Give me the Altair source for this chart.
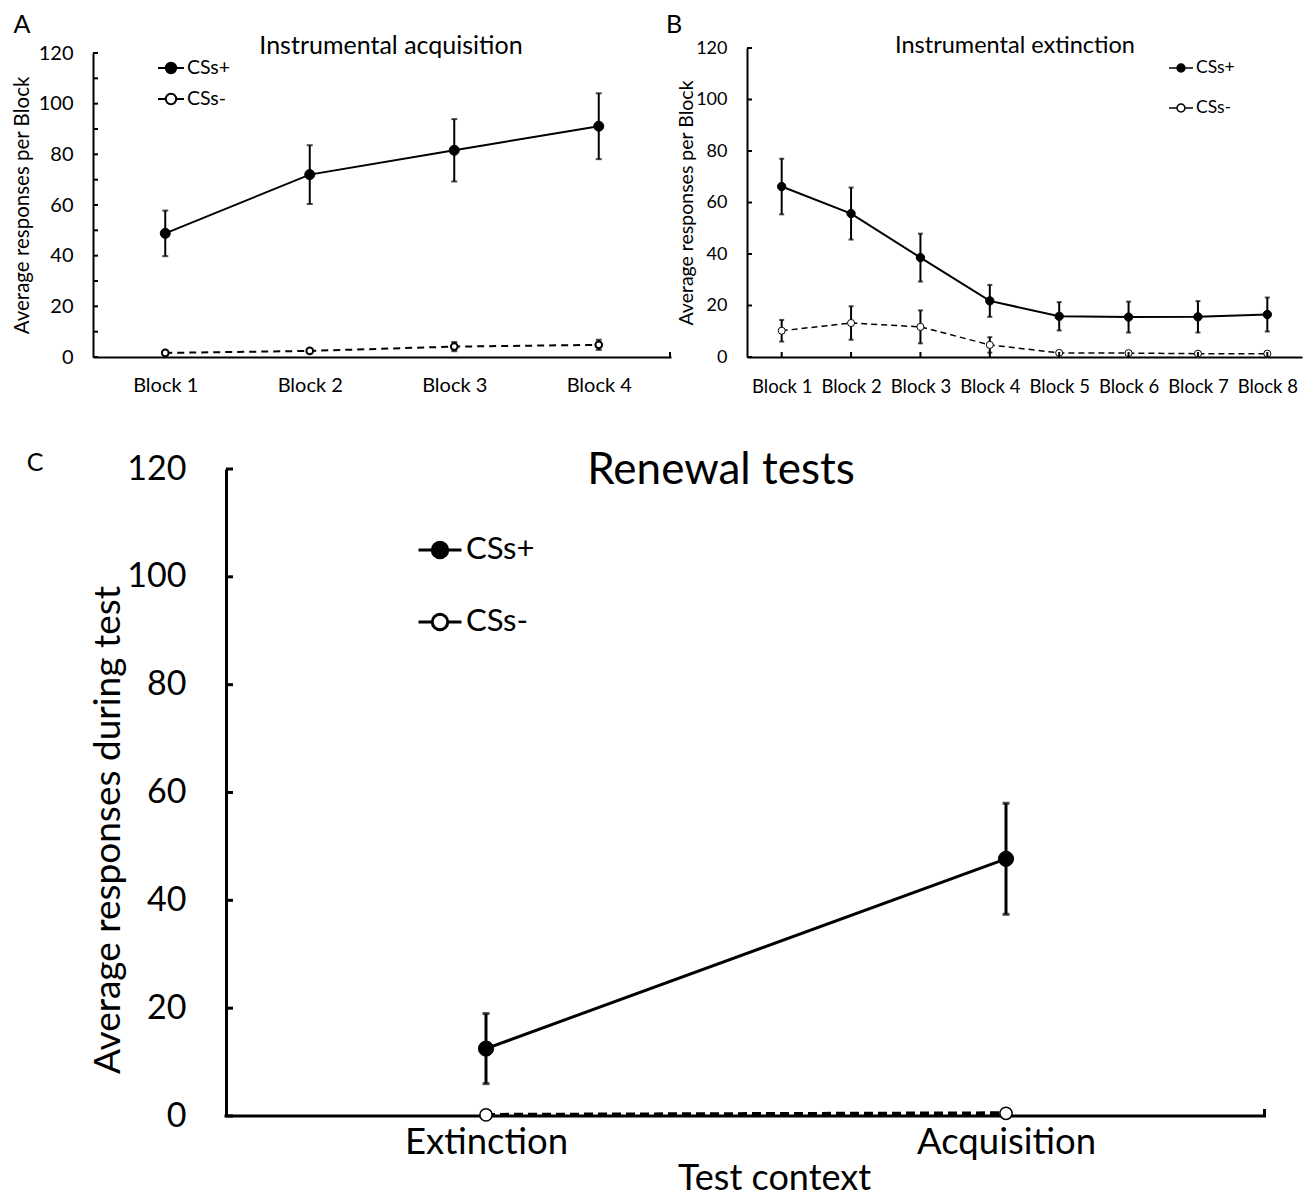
import altair as alt
import pandas as pd

FONT = "Lato"

# ---------------- data ----------------
a_blocks = ["Block 1", "Block 2", "Block 3", "Block 4"]
a_plus = [48.8, 72.0, 81.6, 91.1]
a_plus_err = [9.0, 11.6, 12.3, 13.0]
a_minus = [1.6, 2.4, 4.1, 4.8]
a_minus_err = [0.6, 0.8, 1.8, 2.0]

b_blocks = ["Block 1", "Block 2", "Block 3", "Block 4",
            "Block 5", "Block 6", "Block 7", "Block 8"]
b_plus = [66.2, 55.7, 38.6, 21.8, 15.8, 15.5, 15.6, 16.5]
b_plus_err = [10.8, 10.1, 9.3, 6.2, 5.5, 6.0, 6.1, 6.6]
b_minus = [10.2, 13.2, 11.7, 4.7, 1.6, 1.5, 1.3, 1.3]
b_minus_err = [4.2, 6.5, 6.4, 3.0, 0.3, 0.3, 0.3, 0.3]

c_context = ["Extinction", "Acquisition"]
c_plus = [12.5, 47.7]
c_plus_err = [6.5, 10.3]
c_minus = [0.2, 0.5]
c_minus_err = [0.0, 0.0]

series = ["CSs+", "CSs-"]
y_label_values = [0, 20, 40, 60, 80, 100, 120]


def make_df(cats, plus, plus_err, minus, minus_err):
    rows = []
    for c, v, e in zip(cats, plus, plus_err):
        rows.append({"cat": c, "series": "CSs+", "value": v, "lo": v - e, "hi": v + e})
    for c, v, e in zip(cats, minus, minus_err):
        rows.append({"cat": c, "series": "CSs-", "value": v, "lo": v - e, "hi": v + e})
    return pd.DataFrame(rows)


def panel(cats, plus, plus_err, minus, minus_err, s):
    w, h = s["w"], s["h"]
    x0 = s.get("x0", 0)          # where the y axis sits inside the plot rectangle
    ytop = s.get("ytop", 0)      # where the value 120 sits inside the plot rectangle
    df = make_df(cats, plus, plus_err, minus, minus_err)
    if "xrange" in s:
        xs = alt.Scale(type="point", padding=0, domain=cats, range=s["xrange"])
    else:
        xs = alt.Scale(type="point", padding=0.5, domain=cats)
    ys = alt.Scale(domain=[0, 120], nice=False, zero=True, range=[h, ytop])
    xaxis = alt.Axis(labelAngle=0, ticks=False, grid=False, domain=not s.get("owndomain", False),
                     domainColor="black", domainWidth=s["axw"], labelFont=FONT,
                     labelFontSize=s["xlab"], labelColor="black", labelPadding=s["xpad"],
                     labelBaseline="middle", title=s.get("xtitle", ""), titleFont=FONT,
                     titleFontSize=s.get("xtfs", 12), titleFontWeight="normal",
                     titleColor="black", titleX=s.get("xtx", 0), titleY=s.get("xty", 0),
                     titleAlign="center", titleBaseline="middle", labelFlush=False)
    yaxis = alt.Axis(values=y_label_values, ticks=False, grid=False, offset=-x0,
                     domainColor="black", domainWidth=s["axw"], labelFont=FONT,
                     labelFontSize=s["ylab"], labelColor="black", labelPadding=s["ypad"],
                     title=s["ytitle"], titleFont=FONT, titleFontSize=s["ytfs"],
                     titleFontWeight="normal", titleColor="black", titleAngle=-90,
                     titleX=s["ytx"], titleY=(h + ytop) / 2 + s.get("yty", 0),
                     titleAlign="center", titleBaseline="middle")
    X = alt.X("cat:N", scale=xs, axis=xaxis, sort=cats)
    Y = alt.Y("value:Q", scale=ys, axis=yaxis)

    one = pd.DataFrame({"k": [0]})
    layers = []
    if "bx1" in s:
        layers.append(alt.Chart(one).mark_rule(strokeOpacity=0, opacity=0).encode(
            x=alt.value(s["bx1"]), x2=alt.value(w + s["bx2"]),
            y=alt.value(s["by1"]), y2=alt.value(h + s["by2"])))
    if s.get("owndomain"):
        layers.append(alt.Chart(one).mark_rule(color="black", strokeWidth=s["axw"]).encode(
            x=alt.value(x0 - s["axw"] / 2), x2=alt.value(w), y=alt.value(h)))

    base = alt.Chart(df)
    err = base.mark_rule(color="black", strokeWidth=s["ew"]).encode(
        x=X, y=alt.Y("lo:Q", scale=ys, axis=yaxis), y2="hi:Q")
    cap_hi = base.mark_tick(color="black", thickness=s["ew"], size=s["cap"]).encode(
        x=X, y=alt.Y("hi:Q", scale=ys, axis=yaxis))
    cap_lo = base.mark_tick(color="black", thickness=s["ew"], size=s["cap"]).encode(
        x=X, y=alt.Y("lo:Q", scale=ys, axis=yaxis))
    line_plus = base.transform_filter(alt.datum.series == "CSs+").mark_line(
        color="black", strokeWidth=s["lw"]).encode(x=X, y=Y)
    line_minus = base.transform_filter(alt.datum.series == "CSs-").mark_line(
        color="black", strokeWidth=s["dlw"], strokeDash=s["dash"]).encode(x=X, y=Y)

    legend = alt.Legend(orient="none", legendX=s["lx"], legendY=s["ly"], title=None,
                        symbolType=s["sym"], symbolSize=s["ssz"], symbolStrokeColor="black",
                        symbolStrokeWidth=s["slw"], labelFont=FONT,
                        labelFontSize=s["lfs"], labelColor="black", rowPadding=s["rp"],
                        labelOffset=s["lo"], padding=0, symbolOpacity=1)
    fill = alt.Fill("series:N", scale=alt.Scale(domain=series, range=["black", "white"]),
                    legend=legend)
    pts_plus = base.transform_filter(alt.datum.series == "CSs+").mark_point(
        shape="circle", filled=True, stroke="black", opacity=1, size=s["ps"],
        strokeWidth=1).encode(x=X, y=Y, fill=fill)
    pts_minus = base.transform_filter(alt.datum.series == "CSs-").mark_point(
        shape="circle", filled=True, stroke="black", opacity=1, size=s["ms"],
        strokeWidth=s["msw"]).encode(x=X, y=Y, fill=fill)

    tdf = pd.DataFrame({"t": s["yt"]})
    yticks = alt.Chart(tdf).mark_rule(color="black", strokeWidth=s["axw"]).encode(
        y=alt.Y("t:Q", scale=ys, axis=yaxis), x=alt.value(x0), x2=alt.value(x0 + s["tl"]))

    layers += [err, cap_hi, cap_lo, line_plus, line_minus, pts_plus, pts_minus, yticks]

    if s.get("xticks"):
        xdf = pd.DataFrame({"cat": cats})
        layers.append(alt.Chart(xdf).mark_rule(color="black", strokeWidth=s["axw"]).encode(
            x=X, y=alt.value(h), y2=alt.value(h - s["tl"])))

    if s.get("endtick"):
        layers.append(alt.Chart(one).mark_rule(color="black", strokeWidth=s["axw"]).encode(
            x=alt.value(w - s["axw"] / 2), y=alt.value(h), y2=alt.value(h - s["tl"])))

    title = alt.Chart(one).mark_text(font=FONT, fontSize=s["tfs"], color="black",
                                     align="center", baseline="middle").encode(
        x=alt.value(s["tx"]), y=alt.value(s["ty"]), text=alt.value(s["title"]))
    letter = alt.Chart(one).mark_text(font=FONT, fontSize=s["Lfs"], color="black",
                                      align="center", baseline="middle").encode(
        x=alt.value(s["Lx"]), y=alt.value(s["Ly"]), text=alt.value(s["letter"]))
    layers += [title, letter]
    return alt.layer(*layers).properties(
        width=w, height=h,
        view=alt.ViewConfig(stroke="transparent", strokeWidth=0, fill="white"))


def circ(r):
    return (f"M-1,0H-{r}M{r},0H1M{r},0A{r},{r},0,1,1,-{r},0"
            f"A{r},{r},0,1,1,{r},0Z")


sa = dict(w=578, h=309, ytop=5, axw=2, xlab=20, xpad=28, ylab=20, ypad=20,
          ytitle="Average responses per Block", ytfs=20.5, ytx=-71,
          bx1=-85, bx2=2, by1=-40, by2=42, ew=2, cap=6, lw=2, dlw=2, dash=[7, 5],
          ps=100, ms=45, msw=2, lx=64, ly=6, sym=circ(0.4), ssz=676, slw=2, lfs=19.5,
          rp=7, lo=2, yt=list(range(0, 121, 10)), tl=5, endtick=True,
          tfs=25, tx=298, ty=-2, title="Instrumental acquisition",
          Lfs=25, Lx=-71, Ly=-23, letter="A")
sb = dict(w=555, h=309, axw=2, xlab=18.5, xpad=29, ylab=18, ypad=20,
          ytitle="Average responses per Block", ytfs=19.5, ytx=-61,
          bx1=-90, bx2=2, by1=-40, by2=42, ew=2, cap=5, lw=2, dlw=1.5, dash=[6, 4],
          ps=70, ms=50, msw=1, lx=421, ly=7, sym=circ(0.33), ssz=576, slw=1.5, lfs=17.5,
          rp=18, lo=2, yt=list(range(0, 121, 20)), tl=5, xticks=True,
          tfs=23.5, tx=268, ty=-2, title="Instrumental extinction",
          Lfs=25, Lx=-73, Ly=-23, letter="B")
sc = dict(w=1173, h=647, x0=133, xrange=[393, 913], owndomain=True, axw=3,
          xlab=36.5, xpad=26, ylab=34, ypad=40,
          ytitle="Average responses during test", ytfs=37, ytx=-118, yty=37,
          xtitle="Test context", xtfs=36, xtx=681, xty=62,
          bx1=0, bx2=4, by1=-70, by2=70, ew=3, cap=7, lw=3, dlw=4, dash=[9, 5],
          ps=230, ms=150, msw=1.5, lx=324, ly=58, sym=circ(0.36), ssz=1849, slw=3, lfs=31,
          rp=34, lo=3, yt=list(range(0, 121, 20)), tl=7, endtick=True,
          tfs=44, tx=628, ty=2, title="Renewal tests",
          Lfs=25, Lx=-58, Ly=-6, letter="C")

pa = panel(a_blocks, a_plus, a_plus_err, a_minus, a_minus_err, sa)
pb = panel(b_blocks, b_plus, b_plus_err, b_minus, b_minus_err, sb)
pc = panel(c_context, c_plus, c_plus_err, c_minus, c_minus_err, sc)

top = alt.hconcat(pa, pb, spacing=-16).resolve_scale(fill="independent")
chart = alt.vconcat(top, pc, spacing=0).resolve_scale(fill="independent").properties(
    padding={"left": 0, "top": 0, "right": 0, "bottom": 0}
).configure_view(stroke="transparent", strokeWidth=0).configure(background="white")

chart.save("out.html", embed_options={"renderer": "svg", "actions": False})
